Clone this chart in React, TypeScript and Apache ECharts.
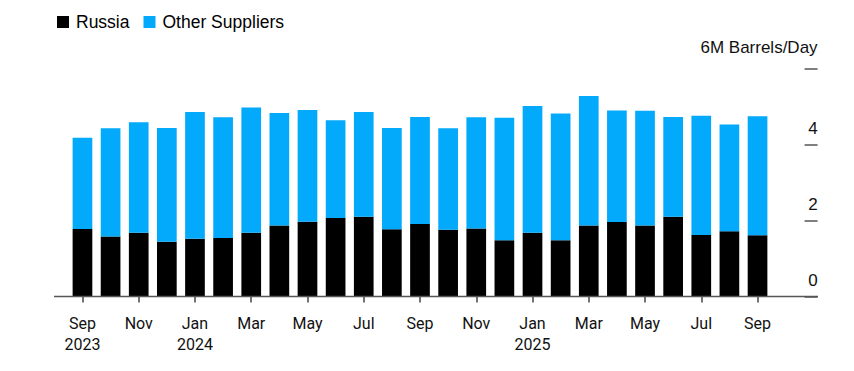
import React, { useEffect, useRef } from "react";
import * as echarts from "echarts";

const months = [
  "Sep\n2023", "Oct", "Nov", "Dec", "Jan\n2024", "Feb", "Mar", "Apr", "May", "Jun", "Jul", "Aug",
  "Sep", "Oct", "Nov", "Dec", "Jan\n2025", "Feb", "Mar", "Apr", "May", "Jun", "Jul", "Aug", "Sep",
];
const russia = [
  1.78, 1.58, 1.68, 1.44, 1.52, 1.54, 1.68, 1.87, 1.97, 2.07, 2.1, 1.77,
  1.91, 1.76, 1.79, 1.48, 1.68, 1.48, 1.87, 1.96, 1.87, 2.1, 1.62, 1.72, 1.61,
];
const otherSuppliers = [
  2.4, 2.85, 2.91, 3.0, 3.34, 3.18, 3.3, 2.96, 2.94, 2.57, 2.76, 2.67,
  2.82, 2.67, 2.93, 3.23, 3.34, 3.34, 3.41, 2.94, 3.02, 2.63, 3.14, 2.81, 3.14,
];
const yTicks = { min: 0, max: 6, interval: 2 };
const unitLabel = "M Barrels/Day";

const SANS = "'Liberation Sans', Arial, sans-serif";
const NARROW = "'Liberation Sans Narrow', 'Arial Narrow', Roboto, sans-serif";

export default function App() {
  const ref = useRef<HTMLDivElement>(null);
  useEffect(() => {
    const chart = echarts.init(ref.current!, null, { renderer: "svg" });
    chart.setOption({
      animation: false,
      legend: {
        left: 52,
        top: 8,
        icon: "rect",
        itemWidth: 12,
        itemHeight: 12,
        itemGap: 14,
        textStyle: { fontSize: 17.5, color: "#000", fontFamily: SANS, padding: [0, 0, 0, 2] },
        data: ["Russia", "Other Suppliers"],
      },
      grid: { left: 68.4, right: 82.4, top: 68.7, bottom: 74.5 },
      xAxis: {
        type: "category",
        data: months,
        axisLine: { show: false },
        axisTick: {
          show: true,
          alignWithLabel: true,
          interval: 1,
          length: 6,
          lineStyle: { color: "#444", width: 1.5 },
        },
        axisLabel: {
          interval: 1,
          margin: 16,
          fontSize: 16,
          lineHeight: 21,
          color: "#111",
          fontFamily: NARROW,
        },
      },
      yAxis: {
        type: "value",
        position: "right",
        offset: 33,
        min: yTicks.min,
        max: yTicks.max,
        interval: yTicks.interval,
        splitLine: { show: false },
        axisLine: { show: false },
        axisTick: { show: true, inside: false, length: 13, lineStyle: { color: "#555", width: 1.5 } },
        axisLabel: {
          margin: 13,
          align: "right",
          verticalAlign: "bottom",
          padding: [0, 0, 8, 0],
          fontSize: 17,
          color: "#111",
          fontFamily: SANS,
          formatter: (v: number) => (v === yTicks.max ? `{u|${v}${unitLabel}}` : `${v}`),
          rich: {
            u: { fontSize: 17, color: "#111", fontFamily: SANS, padding: [0, 0, 5, 0] },
          },
        },
      },
      graphic: [
        {
          type: "line",
          shape: { x1: 54, y1: 296.5, x2: 818, y2: 296.5 },
          style: { stroke: "#555", lineWidth: 1.5 },
          z: 10,
        },
      ],
      series: [
        {
          name: "Russia",
          type: "bar",
          stack: "total",
          barWidth: "70%",
          itemStyle: { color: "#000000" },
          data: russia,
        },
        {
          name: "Other Suppliers",
          type: "bar",
          stack: "total",
          barWidth: "70%",
          itemStyle: { color: "#03a9fa" },
          data: otherSuppliers,
        },
      ],
    });
    return () => chart.dispose();
  }, []);
  return (
    <div
      ref={ref}
      style={{ position: "fixed", left: 0, top: 0, width: 854, height: 371, background: "#fff" }}
    />
  );
}
